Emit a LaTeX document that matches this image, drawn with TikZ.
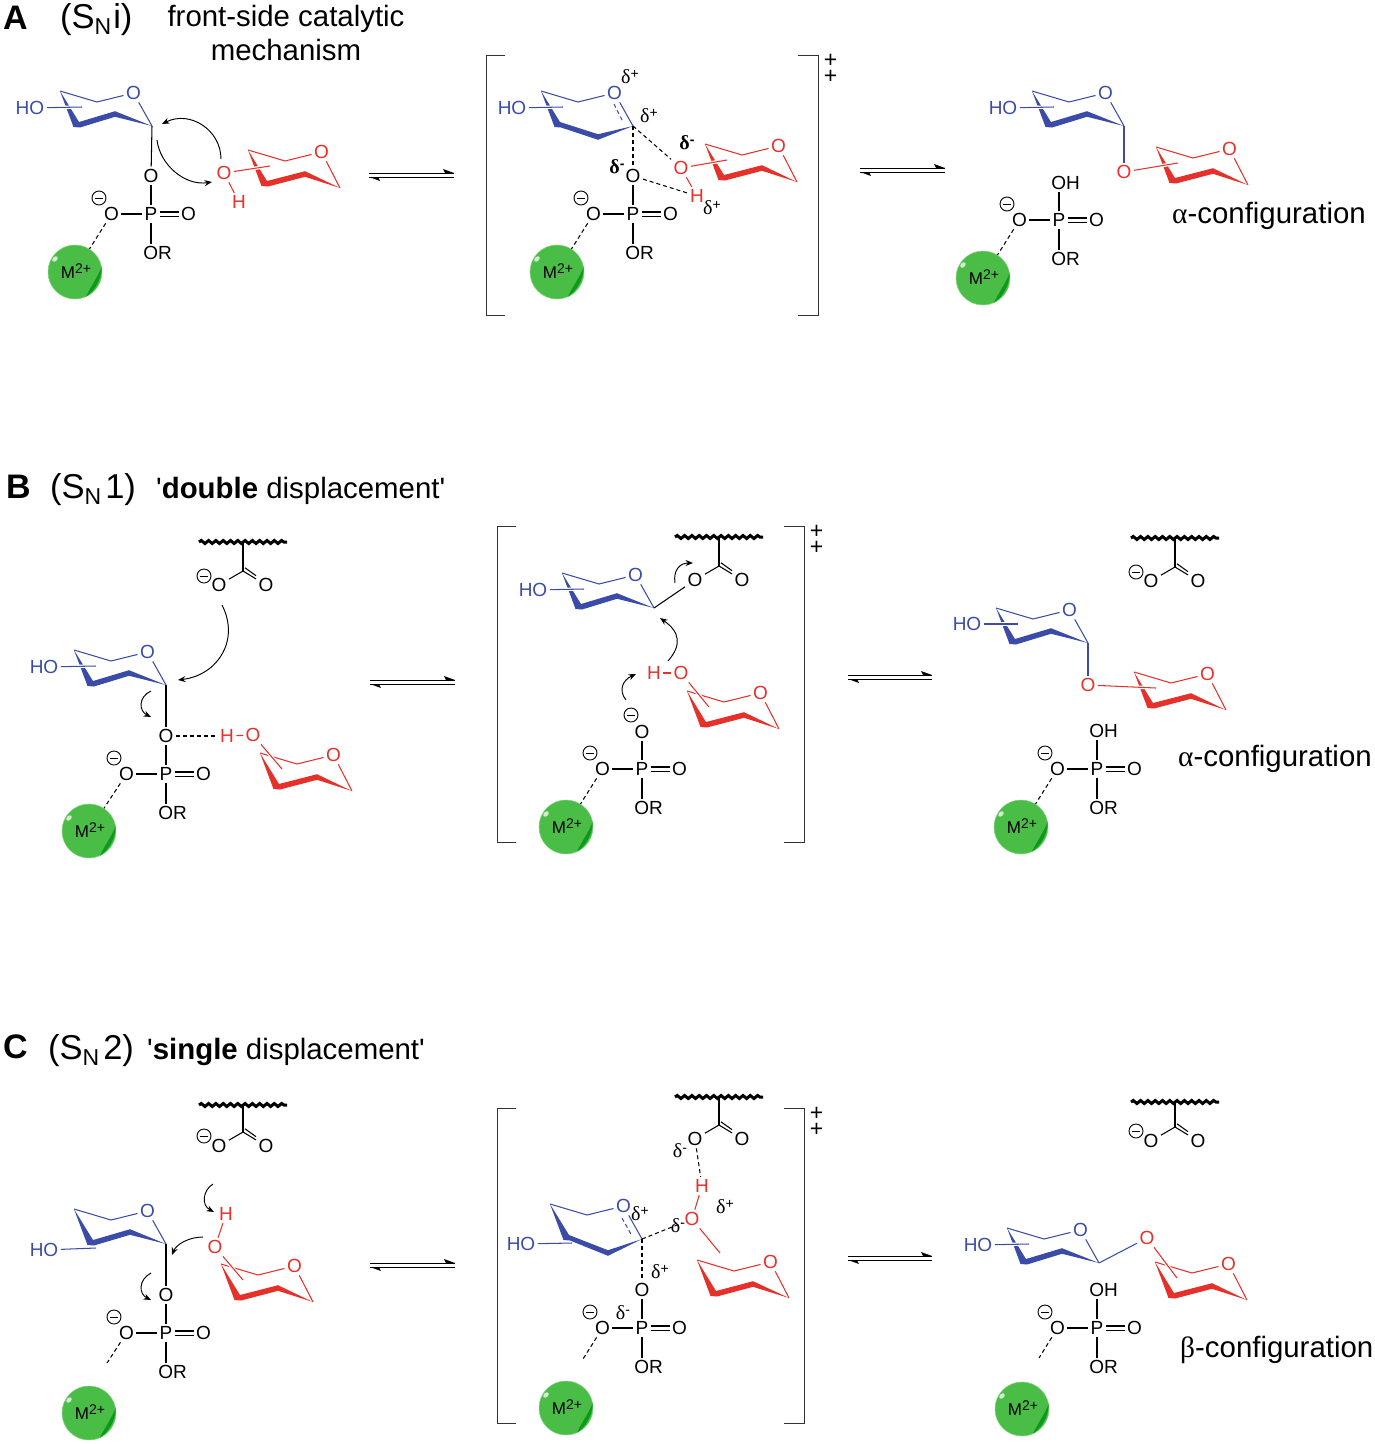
\documentclass[tikz,border=0pt]{standalone}
\usepackage{fontspec}
\setmainfont{Liberation Sans}
\newfontfamily\qfont{Liberation Sans}
\newfontfamily\grfont{Liberation Serif}
\usetikzlibrary{arrows.meta,decorations.pathmorphing}
\definecolor{sugblue}{HTML}{3A4CA8}
\definecolor{sugred}{HTML}{E6302A}
\definecolor{ballgreen}{HTML}{49BD46}
\definecolor{balldark}{HTML}{0D9A1C}
\newcommand{\fs}[1]{\fontsize{#1}{#1}\selectfont}
\tikzset{
  x=1pt,y=-1pt,
  atom/.style={inner sep=2.4pt,font=\fs{19}},
  bond/.style={line width=1.05pt},
  dbond/.style={line width=1.05pt,double,double distance=3pt},
  dbondline/.style={line width=1.05pt,dash pattern=on 4pt off 3pt},
  curvedarrow/.style={line width=0.95pt,-{Stealth[length=7.5pt,width=6pt]}},
  headtxt/.style={anchor=base west,inner sep=0pt,font=\fs{29.4}},
  panel/.style={anchor=base west,inner sep=0pt,font=\fs{34.5}},
  letter/.style={anchor=base west,inner sep=0pt,font=\fs{34}\bfseries},
  ball/.style={circle,fill=ballgreen,draw=ballgreen!70!white,line width=0.5pt,minimum size=54pt,inner sep=0pt,font=\fs{16.5}},
  deltatxt/.style={inner sep=0pt,font=\fs{20}},
  plustxt/.style={inner sep=0pt,align=center,font=\fontsize{23}{16.5}\selectfont},
  minuscirc/.style={circle,draw,line width=0.9pt,minimum size=14pt,inner sep=0pt}
}
% chair: prefix, x, y, colour, Dx, Dy, dy
\newcommand{\chair}[7]{%
  \begin{scope}[shift={(#2,#3)}]
    \coordinate (#1C) at (0,0);
    \coordinate (#1D) at (#5,#6);
    \coordinate (#1TL) at (-92,-35+#7);
    \coordinate (#1B) at (-55,-24+#7);
    \coordinate (#1X) at (-70,-19+#7);
    \node[atom,text=#4] (#1O) at (-18.5,-33+#7) {O};
    \fill[#4] (0,0) -- (#5,#6-2.8) -- (-73,-4+#7) -- (#1TL) -- (-78.5,1+#7) -- (-72,1.5+#7) -- (#5,#6+2.8) -- cycle;
    \draw[#4,bond,line join=miter] (#1TL) -- (#1B) -- (#1O);
    \draw[#4,bond] (#1O) -- (#1C);
  \end{scope}}
% bond that passes over the ring with a white gap
\newcommand{\overbond}[3]{%
  \draw[white,line width=3.4pt] (#1) -- (#2);
  \draw[#3,bond] (#1) -- (#2);}
% phosphate without the top substituent: prefix, x, y
\newcommand{\phos}[3]{%
  \begin{scope}[shift={(#2,#3)}]
    \node[atom] (#1P) at (0,0) {P};
    \node[atom] (#1L) at (-39.5,0) {O};
    \node[atom] (#1D) at (37.5,0) {O};
    \node[atom] (#1R) at (6.5,39) {OR};
    \node[minuscirc] (#1M) at (-52,-16) {};
    \draw[line width=0.9pt] ([xshift=-4pt]#1M.center) -- ([xshift=4pt]#1M.center);
  \end{scope}
  \draw[bond] (#1L) -- (#1P);
  \draw[dbond] (#1P) -- (#1D);
  \draw[bond] (#1P) -- (#1P |- #1R.north);}
% metal ball: name, x, y
\newcommand{\metal}[3]{%
  \node[ball] (#1) at (#2,#3) {};
  \begin{scope}[shift={(#2,#3)}]
    \fill[balldark] (26.8,-5) .. controls (26.5,7) and (20,19) .. (11,24.6) .. controls (16,14) and (21,8) .. cycle;
    \fill[white!75!ballgreen] (-20,-13) ellipse [x radius=3.2,y radius=2.2,rotate=45];
    \node[inner sep=0pt,font=\fs{17}] (#1t) at (1,-1) {M\raisebox{5.5pt}{\fs{14}2+}};
  \end{scope}}
% protein backbone with carboxylate: prefix, x, ywave, yC
\newcommand{\carb}[4]{%
  \coordinate (#1a) at (#2-44,#3);
  \coordinate (#1b) at (#2+44,#3);
  \coordinate (#1m) at (#2,#3);
  \coordinate (#1C) at (#2,#4);
  \draw[line width=3pt,decorate,decoration={snake,amplitude=1.5pt,segment length=7.3pt}] (#1a) -- (#1b);
  \node[atom] (#1L) at (#2-24,#4+14) {O};
  \node[atom] (#1D) at (#2+23,#4+14) {O};
  \draw[bond] (#1m) -- (#1C);
  \draw[bond] (#1C) -- (#1L);
  \draw[bond] (#1C) -- (#1D);
  \draw[bond] ([shift={(2,-3.2)}]#1C) -- (#1D.north west);}
% equilibrium arrows: prefix, x1, x2, y
\newcommand{\equil}[4]{%
  \coordinate (#1a) at (#2,#4-2);
  \coordinate (#1b) at (#3,#4-2);
  \coordinate (#1c) at (#2,#4+2);
  \coordinate (#1d) at (#3,#4+2);
  \draw[line width=0.85pt] (#1a) -- (#1b);
  \draw[line width=0.85pt] (#1c) -- (#1d);
  \fill (#3,#4-2) -- (#3-11,#4-6) -- (#3-9,#4-2) -- cycle;
  \fill (#2,#4+2) -- (#2+11,#4+6) -- (#2+9,#4+2) -- cycle;}
% brackets: prefix, xl, xr, ytop, ybot
\newcommand{\brackets}[5]{%
  \coordinate (#1a) at (#2+19,#4);
  \coordinate (#1b) at (#2,#4);
  \coordinate (#1c) at (#2,#5);
  \coordinate (#1d) at (#2+19,#5);
  \coordinate (#1e) at (#3-20,#4);
  \coordinate (#1f) at (#3,#4);
  \coordinate (#1g) at (#3,#5);
  \coordinate (#1h) at (#3-20,#5);
  \draw[line width=1pt,black!80] (#1a) -- (#1b) -- (#1c) -- (#1d);
  \draw[line width=1pt,black!80] (#1e) -- (#1f) -- (#1g) -- (#1h);
  \node[plustxt] (#1p) at (#3+12.5,#4+14) {+\\+};}
\newcommand{\curv}[5]{%
  \coordinate (#1s) at (#2);
  \coordinate (#1e) at (#5);
  \draw[curvedarrow] (#1s) .. controls (#3) and (#4) .. (#1e);}
\newcommand{\dpl}{{\grfont δ}\raisebox{5.5pt}{\fs{14}+}}
\newcommand{\dmn}{{\grfont δ}\raisebox{5.5pt}{\fs{14}-}}
\newcommand{\dmb}{{\grfont\bfseries δ}\raisebox{5.5pt}{\fs{14}\bfseries-}}
\newcommand{\snlabel}[2]{(S\raisebox{-6pt}{\fs{23}N}\kern#2pt #1)}
\begin{document}
\begin{tikzpicture}
\useasboundingbox (0,0) rectangle (1375,1444);

%%%%%%%%%%%%%%%% headings
\node[letter] (hA) at (3,29) {A};
\node[panel] (hAs) at (60,28) {\snlabel{i}{2}};
\node[inner sep=0pt,font=\fs{29.4},anchor=base] (hAt1) at (286,26) {front-side catalytic};
\node[inner sep=0pt,font=\fs{29.4},anchor=base] (hAt2) at (286,60) {mechanism};
\node[letter] (hB) at (6,498) {B};
\node[panel] (hBs) at (50,498) {\snlabel{1}{4}};
\node[headtxt] (hBt) at (156,498) {\qfont'\textbf{double} displacement'};
\node[letter] (hC) at (3,1058) {C};
\node[panel] (hCs) at (48,1059) {\snlabel{2}{4}};
\node[headtxt] (hCt) at (147,1059) {\qfont'\textbf{single} displacement'};

%%%%%%%%%%%%%%%% A left
\chair{al}{152}{126}{sugblue}{-37}{-12}{0}
\node[atom,text=sugblue] (alH) at (30,108) {HO};
\overbond{alH}{alX}{sugblue}
\phos{ap}{151}{214}
\node[atom] (apO) at (151,176) {O};
\draw[bond] (alC) -- (apO);
\draw[bond] (apO) -- (apP);
\metal{am}{75}{272}
\draw[dbondline] (apL) -- (am);
\chair{ar}{340}{188}{sugred}{-35}{-14}{-3}
\node[atom,text=sugred] (arH) at (224,173) {O};
\node[atom,text=sugred] (arHH) at (239,202) {H};
\overbond{arH}{arX}{sugred}
\draw[sugred,bond] (arH) -- (arHH);
\curv{aca}{221,159}{221,130}{190,110}{162,124}
\curv{acb}{157,140}{160,165}{185,186}{212,182}
\equil{ae1}{369}{454}{175}

%%%%%%%%%%%%%%%% A middle
\brackets{ab}{486}{818}{55}{315}
\chair{bl}{633}{126}{sugblue}{-35}{11}{0}
\node[atom,text=sugblue] (blH) at (512,108) {HO};
\overbond{blH}{blX}{sugblue}
\coordinate (bld1) at (614,104);
\coordinate (bld2) at (623,122);
\draw[sugblue,dbondline] (bld1) -- (bld2);
\phos{bp}{633}{214}
\node[atom] (bpO) at (633,176) {O};
\draw[bond] (bpO) -- (bpP);
\draw[dbondline] (blC) -- (bpO);
\metal{bm}{557}{272}
\draw[dbondline] (bpL) -- (bm);
\chair{br}{797}{182}{sugred}{-35}{-14}{-3}
\node[atom,text=sugred] (brH) at (681,168) {O};
\node[atom,text=sugred] (brHH) at (697,196) {H};
\overbond{brH}{brX}{sugred}
\draw[sugred,bond] (brH) -- (brHH);
\draw[dbondline] (blC) -- (brH);
\draw[dbondline] (bpO) -- (brHH);
\node[deltatxt] (bd1) at (630,77) {\dpl};
\node[deltatxt] (bd2) at (649,116) {\dpl};
\node[deltatxt] (bd3) at (687,143) {\dmb};
\node[deltatxt] (bd4) at (617,167) {\dmb};
\node[deltatxt] (bd5) at (712,208) {\dpl};
\equil{ae2}{860}{945}{170}

%%%%%%%%%%%%%%%% A right
\chair{cl}{1124}{126}{sugblue}{-37}{-12}{0}
\node[atom,text=sugblue] (clH) at (1003,108) {HO};
\overbond{clH}{clX}{sugblue}
\chair{cr}{1248}{185}{sugred}{-35}{-14}{-3}
\node[atom,text=sugred] (crH) at (1124,172) {O};
\overbond{crH}{crX}{sugred}
\draw[sugblue,bond] (clC) -- (crH);
\phos{cp}{1059}{220}
\node[atom] (cpO) at (1065.5,183) {OH};
\draw[bond] (cpP) -- (cpP |- cpO.south);
\metal{cm}{983}{278}
\draw[dbondline] (cpL) -- (cm);
\node[headtxt] (cT) at (1172,223) {{\grfont α}-configuration};

%%%%%%%%%%%%%%%% B left
\carb{dc}{243}{542}{571}
\node[minuscirc] (dcM) at (204,576) {};
\draw[line width=0.9pt] ([xshift=-4pt]dcM.center) -- ([xshift=4pt]dcM.center);
\chair{dl}{166}{685}{sugblue}{-37}{-12}{0}
\node[atom,text=sugblue] (dlH) at (44,667) {HO};
\overbond{dlH}{dlX}{sugblue}
\phos{dp}{166}{774}
\node[atom] (dpO) at (166,736) {O};
\draw[bond] (dlC) -- (dpO);
\draw[bond] (dpO) -- (dpP);
\metal{dm}{89}{831}
\draw[dbondline] (dpL) -- (dm);
\chair{dr}{352}{791}{sugred}{-35}{-14}{-3}
\node[atom,text=sugred] (drH) at (253,735) {O};
\node[atom,text=sugred] (drHH) at (227,736) {H};
\overbond{drH}{drX}{sugred}
\draw[sugred,bond] (drHH) -- (drH);
\draw[dbondline] (dpO) -- (drHH);
\curv{dca}{222,605}{240,640}{218,675}{178,680}
\curv{dcb}{151,691}{138,697}{139,711}{151,717}
\equil{be1}{370}{455}{682}

%%%%%%%%%%%%%%%% B middle
\brackets{bb}{497}{804}{526}{842}
\carb{ec}{719}{537}{566}
\chair{el}{654}{608}{sugblue}{-37}{-12}{0}
\node[atom,text=sugblue] (elH) at (533,590) {HO};
\overbond{elH}{elX}{sugblue}
\draw[bond] (elC) -- (ecL);
\curv{eca}{675,583}{673,570}{680,563}{693,563}
\curv{ecb}{668,661}{682,645}{680,632}{660,618}
\chair{er}{779}{729}{sugred}{-35}{-14}{-3}
\node[atom,text=sugred] (erH) at (681,673) {O};
\node[atom,text=sugred] (erHH) at (654,673) {H};
\overbond{erH}{erX}{sugred}
\draw[sugred,bond] (erHH) -- (erH);
\curv{ecc}{626,700}{618,690}{623,680}{636,674}
\phos{ep}{642}{769}
\node[atom] (epO) at (642,732) {O};
\draw[bond] (epO) -- (epP);
\node[minuscirc] (epN) at (631,715) {};
\draw[line width=0.9pt] ([xshift=-4pt]epN.center) -- ([xshift=4pt]epN.center);
\metal{em}{566}{827}
\draw[dbondline] (epL) -- (em);
\equil{be2}{848}{932}{677}

%%%%%%%%%%%%%%%% B right
\carb{fc}{1175}{538}{567}
\node[minuscirc] (fcM) at (1136,572) {};
\draw[line width=0.9pt] ([xshift=-4pt]fcM.center) -- ([xshift=4pt]fcM.center);
\chair{fl}{1088}{643}{sugblue}{-37}{-12}{0}
\node[atom,text=sugblue] (flH) at (967,624) {HO};
\overbond{flH}{flX}{sugblue}
\chair{fr}{1226}{710}{sugred}{-35}{-14}{-3}
\node[atom,text=sugred] (frH) at (1088,685) {O};
\overbond{frH}{frX}{sugred}
\draw[sugblue,bond] (flC) -- (frH);
\phos{fp}{1097}{769}
\node[atom] (fpO) at (1103.5,731) {OH};
\draw[bond] (fpP) -- (fpP |- fpO.south);
\metal{fm}{1021}{827}
\draw[dbondline] (fpL) -- (fm);
\node[headtxt] (fT) at (1178,766) {{\grfont α}-configuration};

%%%%%%%%%%%%%%%% C left
\carb{gc}{243}{1105}{1132}
\node[minuscirc] (gcM) at (204,1136) {};
\draw[line width=0.9pt] ([xshift=-4pt]gcM.center) -- ([xshift=4pt]gcM.center);
\chair{gl}{166}{1244}{sugblue}{-36}{-12}{0}
\node[atom,text=sugblue] (glH) at (44,1250) {HO};
\coordinate (glE) at (96,1248);
\draw[sugblue,bond] (glH) -- (glE);
\phos{gp}{166}{1333}
\node[atom] (gpO) at (166,1295) {O};
\draw[bond] (glC) -- (gpO);
\draw[bond] (gpO) -- (gpP);
\metal{gm}{89}{1413}
\coordinate (gmd) at (107,1363);
\draw[dbondline] (gpL) -- (gmd);
\chair{gr}{313}{1302}{sugred}{-35}{-14}{-3}
\node[atom,text=sugred] (grH) at (215,1247) {O};
\node[atom,text=sugred] (grHH) at (226,1214) {H};
\overbond{grH}{grX}{sugred}
\draw[sugred,bond] (grH) -- (grHH);
\curv{gca}{213,1184}{203,1190}{201,1205}{214,1212}
\curv{gcb}{203,1237}{188,1237}{176,1245}{172,1255}
\curv{gcc}{151,1273}{138,1280}{139,1294}{151,1300}
\equil{ce1}{370}{455}{1265}

%%%%%%%%%%%%%%%% C middle
\brackets{cb}{497}{804}{1108}{1423}
\carb{hc}{719}{1097}{1125}
\chair{hl}{642}{1239}{sugblue}{-34}{14}{0}
\node[atom,text=sugblue] (hlH) at (521,1244) {HO};
\coordinate (hlE) at (572,1243);
\overbond{hlH}{hlE}{sugblue}
\coordinate (hld1) at (622,1218);
\coordinate (hld2) at (632,1236);
\draw[sugblue,dbondline] (hld1) -- (hld2);
\phos{hp}{642}{1328}
\node[atom] (hpO) at (642,1290) {O};
\draw[bond] (hpO) -- (hpP);
\draw[dbondline] (hlC) -- (hpO);
\metal{hm}{566}{1408}
\coordinate (hmd) at (583,1359);
\draw[dbondline] (hpL) -- (hmd);
\chair{hr}{789}{1298}{sugred}{-36}{-14}{-3}
\node[atom,text=sugred] (hrH) at (692,1219) {O};
\node[atom,text=sugred] (hrHH) at (702,1186) {H};
\coordinate (hrE) at (720,1253);
\draw[sugred,bond] (hrH) -- (hrHH);
\draw[sugred,bond] (hrH) -- (hrE);
\draw[dbondline] (hlC) -- (hrH);
\draw[dbondline] (hcL) -- (hrHH);
\node[deltatxt] (hd1) at (680,1151) {\dmn};
\node[deltatxt] (hd2) at (725,1207) {\dpl};
\node[deltatxt] (hd3) at (678,1226) {\dmn};
\node[deltatxt] (hd4) at (640,1214) {\dpl};
\node[deltatxt] (hd5) at (660,1272) {\dpl};
\node[deltatxt] (hd6) at (623,1313) {\dmn};
\equil{ce2}{848}{932}{1258}

%%%%%%%%%%%%%%%% C right
\carb{kc}{1175}{1102}{1127}
\node[minuscirc] (kcM) at (1136,1131) {};
\draw[line width=0.9pt] ([xshift=-4pt]kcM.center) -- ([xshift=4pt]kcM.center);
\chair{kl}{1099}{1263}{sugblue}{-37}{-12}{0}
\node[atom,text=sugblue] (klH) at (978,1245) {HO};
\overbond{klH}{klX}{sugblue}
\chair{kr}{1247}{1300}{sugred}{-35}{-14}{-3}
\node[atom,text=sugred] (krH) at (1147,1238) {O};
\overbond{krH}{krX}{sugred}
\draw[sugblue,bond] (klC) -- (krH);
\phos{kp}{1097}{1328}
\node[atom] (kpO) at (1103.5,1290) {OH};
\draw[bond] (kpP) -- (kpP |- kpO.south);
\metal{km}{1022}{1409}
\coordinate (kmd) at (1039,1358);
\draw[dbondline] (kpL) -- (kmd);
\node[headtxt] (kT) at (1180,1357) {{\grfont β}-configuration};
\end{tikzpicture}
\end{document}
